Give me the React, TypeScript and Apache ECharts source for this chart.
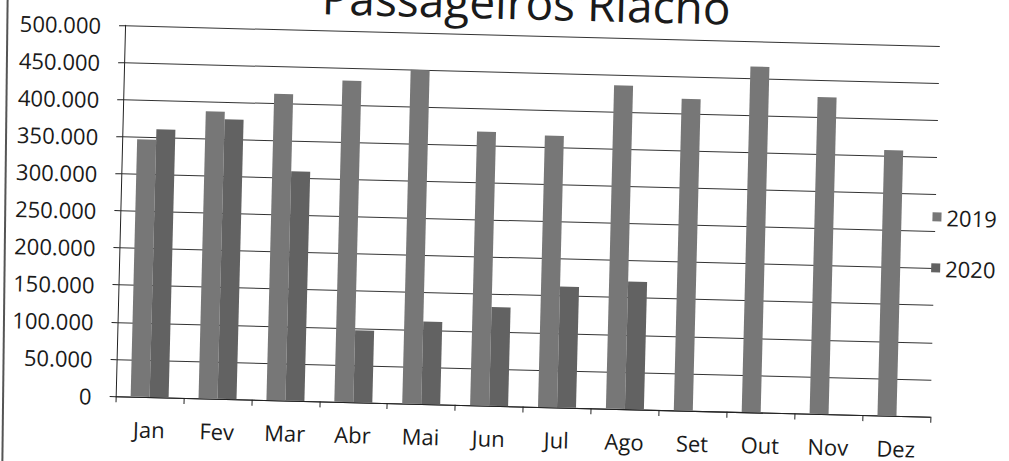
import React, { useEffect, useRef } from "react";
import * as echarts from "echarts";

const categories = ["Jan", "Fev", "Mar", "Abr", "Mai", "Jun", "Jul", "Ago", "Set", "Out", "Nov", "Dez"];
const values2019 = [347000, 387000, 413000, 433000, 450000, 369000, 366000, 436000, 420000, 466000, 427000, 358000];
const values2020 = [361000, 377000, 309000, 97000, 111000, 133000, 163000, 172000, null, null, null, null];
const seriesNames = ["2019", "2020"];
const titleText = "Passageiros Riacho";

const fmt = (v: number) => {
  const s = String(Math.round(v));
  return s.replace(/\B(?=(\d{3})+(?!\d))/g, ".");
};

// oversized canvas so that the rotated edges fall outside the visible page
const DX = 45;
const DY = 50;

export default function App() {
  const ref = useRef<HTMLDivElement>(null);
  useEffect(() => {
    const chart = echarts.init(ref.current!, null, { renderer: "svg" });
    const font = '"Open Sans", sans-serif';
    chart.setOption({
      animation: false,
      backgroundColor: "#ffffff",
      title: {
        text: titleText,
        left: 311 + DX,
        top: -27 + DY,
        textStyle: { fontSize: 46, fontWeight: "normal", color: "#1a1a1a", fontFamily: font },
      },
      legend: {
        orient: "vertical",
        left: 927 + DX,
        top: 190 + DY,
        itemWidth: 9,
        itemHeight: 9,
        itemGap: 29,
        icon: "rect",
        textStyle: { fontSize: 22, color: "#1a1a1a", fontFamily: font },
        data: seriesNames,
      },
      grid: { left: 120 + DX, top: 35 + DY, width: 815, height: 371, containLabel: false },
      xAxis: {
        type: "category",
        data: categories,
        axisLine: { lineStyle: { color: "#222", width: 1 } },
        axisTick: { show: true, length: 6, alignWithLabel: false, lineStyle: { color: "#222" } },
        axisLabel: { fontSize: 22, color: "#1a1a1a", fontFamily: font, margin: 21 },
      },
      yAxis: {
        type: "value",
        min: 0,
        max: 500000,
        interval: 50000,
        axisLine: { show: true, lineStyle: { color: "#222", width: 1 } },
        axisTick: { show: true, length: 6, lineStyle: { color: "#222" } },
        axisLabel: { fontSize: 22, color: "#1a1a1a", fontFamily: font, margin: 24, formatter: fmt },
        splitLine: { lineStyle: { color: "#333", width: 1 } },
      },
      series: [
        {
          name: seriesNames[0],
          type: "bar",
          data: values2019,
          barWidth: 19,
          barGap: "0%",
          itemStyle: { color: "#777777" },
        },
        {
          name: seriesNames[1],
          type: "bar",
          data: values2020,
          barWidth: 19,
          barGap: "0%",
          itemStyle: { color: "#626262" },
        },
      ],
    });
    return () => chart.dispose();
  }, []);
  return (
    <>
      <div
        ref={ref}
        style={{
          position: "fixed",
          left: -DX,
          top: -DY,
          width: 1009 + 2 * DX,
          height: 461 + 2 * DY,
          transform: "rotate(1.45deg)",
          transformOrigin: `${504.5 + DX}px ${230.5 + DY}px`,
        }}
      />
      <div
        style={{
          position: "fixed",
          left: 4,
          top: 0,
          width: 2,
          height: 461,
          background: "#555",
          transform: "rotate(0.65deg)",
          transformOrigin: "0 50%",
        }}
      />
    </>
  );
}
